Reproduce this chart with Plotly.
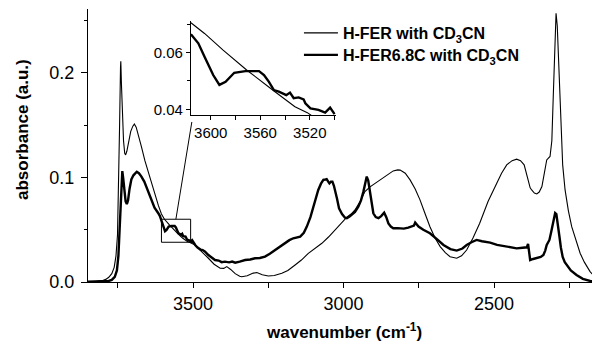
import plotly.graph_objects as go

# ---------------- data ----------------
fer_wn = [3849, 3820, 3800, 3790, 3780, 3770, 3762, 3756, 3751, 3747, 3744, 3741, 3740, 3738, 3735, 3731, 3727, 3724, 3720, 3714, 3707, 3700, 3695, 3689, 3682, 3672, 3660, 3648, 3637, 3625, 3615, 3605, 3595, 3580, 3565, 3550, 3535, 3520, 3505, 3493, 3475, 3460, 3449, 3430, 3410, 3398, 3388, 3375, 3360, 3345, 3338, 3320, 3300, 3288, 3270, 3250, 3230, 3205, 3185, 3161, 3140, 3117, 3095, 3072, 3050, 3028, 3010, 2989, 2975, 2962, 2945, 2929, 2912, 2895, 2878, 2862, 2846, 2835, 2820, 2812, 2795, 2779, 2762, 2746, 2730, 2713, 2696, 2679, 2662, 2646, 2624, 2608, 2591, 2570, 2548, 2520, 2491, 2475, 2458, 2440, 2425, 2412, 2400, 2392, 2386, 2380, 2375, 2366, 2358, 2350, 2341, 2333, 2325, 2314, 2308, 2303, 2298, 2294, 2290, 2286, 2282, 2278, 2272, 2264, 2253, 2242, 2228, 2214, 2200, 2181, 2165, 2148]
fer_abs = [0.0004, 0.0006, 0.0015, 0.0025, 0.0045, 0.008, 0.014, 0.025, 0.045, 0.09, 0.15, 0.205, 0.211, 0.19, 0.16, 0.135, 0.123, 0.1215, 0.125, 0.134, 0.144, 0.149, 0.151, 0.148, 0.141, 0.130, 0.116, 0.104, 0.095, 0.083, 0.073, 0.065, 0.060, 0.055, 0.050, 0.046, 0.042, 0.039, 0.037, 0.0354, 0.030, 0.026, 0.0227, 0.017, 0.0131, 0.013, 0.0147, 0.012, 0.008, 0.0055, 0.0051, 0.006, 0.0085, 0.009, 0.007, 0.0057, 0.0062, 0.0083, 0.011, 0.0163, 0.021, 0.0274, 0.032, 0.037, 0.043, 0.0498, 0.055, 0.0619, 0.065, 0.0689, 0.077, 0.0864, 0.091, 0.0944, 0.098, 0.1008, 0.104, 0.1062, 0.1072, 0.107, 0.104, 0.0976, 0.089, 0.0785, 0.066, 0.0529, 0.042, 0.0338, 0.028, 0.0242, 0.0227, 0.025, 0.0306, 0.042, 0.056, 0.077, 0.0944, 0.104, 0.112, 0.116, 0.1174, 0.116, 0.112, 0.104, 0.096, 0.090, 0.088, 0.085, 0.0842, 0.086, 0.0912, 0.105, 0.1167, 0.12, 0.135, 0.18, 0.235, 0.257, 0.245, 0.215, 0.175, 0.14, 0.112, 0.088, 0.068, 0.0529, 0.039, 0.0275, 0.019, 0.0099, 0.005, 0.002]

fer68_wn = [3849, 3800, 3780, 3770, 3760, 3753, 3748, 3744, 3740, 3737, 3735, 3732, 3728, 3724, 3720, 3716, 3711, 3705, 3698, 3692, 3687, 3680, 3672, 3662, 3652, 3640, 3628, 3616, 3610, 3605, 3598, 3593, 3588, 3581, 3572, 3561, 3557, 3553, 3549, 3545, 3539, 3536, 3533, 3525, 3520, 3513, 3507, 3503, 3499, 3493, 3485, 3475, 3468, 3460, 3450, 3440, 3427, 3415, 3405, 3394, 3380, 3370, 3360, 3345, 3327, 3310, 3294, 3278, 3261, 3245, 3228, 3210, 3194, 3180, 3167, 3155, 3144, 3132, 3122, 3110, 3100, 3090, 3084, 3075, 3067, 3060, 3056, 3051, 3047, 3042, 3037, 3032, 3028, 3022, 3015, 3005, 2995, 2989, 2980, 2973, 2962, 2951, 2942, 2934, 2928, 2923, 2918, 2912, 2906, 2901, 2893, 2884, 2875, 2865, 2858, 2851, 2843, 2835, 2820, 2800, 2785, 2773, 2766, 2762, 2757, 2751, 2735, 2713, 2690, 2668, 2645, 2624, 2605, 2591, 2575, 2558, 2540, 2513, 2490, 2469, 2445, 2425, 2405, 2391, 2387, 2384, 2380, 2370, 2358, 2345, 2336, 2330, 2325, 2316, 2310, 2303, 2297, 2293, 2288, 2283, 2278, 2272, 2265, 2259, 2245, 2226, 2205, 2181, 2148]
fer68_abs = [0.0003, 0.0005, 0.001, 0.002, 0.005, 0.011, 0.025, 0.05, 0.08, 0.103, 0.106, 0.099, 0.086, 0.077, 0.0745, 0.078, 0.089, 0.098, 0.102, 0.104, 0.1054, 0.104, 0.101, 0.096, 0.089, 0.080, 0.071, 0.066, 0.063, 0.0586, 0.0521, 0.0486, 0.0497, 0.0529, 0.0535, 0.0535, 0.0521, 0.0497, 0.0468, 0.0462, 0.045, 0.0459, 0.0439, 0.0435, 0.0405, 0.0398, 0.0388, 0.0400, 0.0375, 0.0354, 0.033, 0.031, 0.0305, 0.029, 0.026, 0.0235, 0.021, 0.0205, 0.019, 0.0195, 0.0188, 0.0195, 0.0185, 0.0195, 0.021, 0.0215, 0.0227, 0.023, 0.0243, 0.027, 0.0306, 0.034, 0.037, 0.040, 0.0418, 0.0425, 0.0434, 0.047, 0.053, 0.062, 0.072, 0.082, 0.088, 0.094, 0.0976, 0.098, 0.0983, 0.096, 0.0944, 0.096, 0.096, 0.092, 0.088, 0.080, 0.0705, 0.065, 0.0615, 0.061, 0.0625, 0.064, 0.067, 0.072, 0.078, 0.0864, 0.095, 0.1008, 0.097, 0.0864, 0.075, 0.0657, 0.062, 0.061, 0.063, 0.0663, 0.062, 0.056, 0.053, 0.0514, 0.0515, 0.051, 0.052, 0.0529, 0.054, 0.0568, 0.055, 0.053, 0.050, 0.0466, 0.041, 0.0354, 0.0315, 0.030, 0.032, 0.0354, 0.038, 0.0402, 0.039, 0.0376, 0.0355, 0.0344, 0.033, 0.0322, 0.0328, 0.0332, 0.0364, 0.028, 0.021, 0.022, 0.0227, 0.024, 0.0258, 0.030, 0.0354, 0.0402, 0.048, 0.0593, 0.066, 0.065, 0.056, 0.044, 0.033, 0.024, 0.019, 0.0163, 0.011, 0.0067, 0.003, 0.001, 0.0003]

inset_fer_wn = [3616, 3605, 3590, 3571, 3550, 3532, 3522, 3516]
inset_fer_abs = [0.0706, 0.0668, 0.0609, 0.0539, 0.0468, 0.0409, 0.0388, 0.0370]

inset_fer68_wn = [3616, 3610, 3605, 3598, 3593, 3588, 3581, 3572, 3561, 3557, 3553, 3549, 3545, 3541, 3539, 3536, 3533, 3529, 3525, 3523.6, 3519.5, 3513, 3507.6, 3503.6, 3500]
inset_fer68_abs = [0.0665, 0.0633, 0.0586, 0.0521, 0.0486, 0.0497, 0.0529, 0.0535, 0.0535, 0.0521, 0.0497, 0.0468, 0.0462, 0.0455, 0.0450, 0.0459, 0.0439, 0.0442, 0.0435, 0.0421, 0.0403, 0.0398, 0.0388, 0.0406, 0.0383]

series_names = ["<b>H-FER with CD<sub>3</sub>CN</b>", "<b>H-FER6.8C with CD<sub>3</sub>CN</b>"]

# ---------------- figure ----------------
# the page body adds an 8px offset, so the figure is drawn 8px smaller
FONT = "Liberation Sans, Arial, Helvetica, sans-serif"
fig = go.Figure()

fig.add_trace(go.Scatter(x=fer_wn, y=fer_abs, mode="lines", name=series_names[0],
                         line=dict(color="black", width=1.1), xaxis="x", yaxis="y",
                         legend="legend"))
fig.add_trace(go.Scatter(x=fer68_wn, y=fer68_abs, mode="lines", name=series_names[1],
                         line=dict(color="black", width=2.4), xaxis="x", yaxis="y",
                         legend="legend2"))

fig.add_trace(go.Scatter(x=inset_fer_wn, y=inset_fer_abs, mode="lines", showlegend=False,
                         line=dict(color="black", width=1.1), xaxis="x2", yaxis="y2"))
fig.add_trace(go.Scatter(x=inset_fer68_wn, y=inset_fer68_abs, mode="lines", showlegend=False,
                         line=dict(color="black", width=2.4), xaxis="x2", yaxis="y2"))

leg_common = dict(xanchor="left", yanchor="middle", bgcolor="rgba(0,0,0,0)",
                  font=dict(size=16, family=FONT), itemwidth=34)

fig.update_layout(
    width=592, height=336,
    margin=dict(l=80, r=0, t=1, b=62, autoexpand=False),
    paper_bgcolor="white", plot_bgcolor="white",
    font=dict(family=FONT, color="black", size=18),
    showlegend=True,
    legend=dict(x=0.412, y=(282 - 33) / 273, **leg_common),
    legend2=dict(x=0.412, y=(282 - 55) / 273, **leg_common),
    xaxis=dict(range=[3849, 2148], showline=True, linecolor="black", linewidth=1.3,
               ticks="outside", ticklen=5, tickwidth=1.2, tickcolor="black",
               tick0=3500, dtick=500, tickfont=dict(size=18),
               minor=dict(tick0=3500, dtick=250, ticklen=5, tickwidth=1.2,
                          tickcolor="black", ticks="outside"),
               showgrid=False, zeroline=False, mirror=False, automargin=False),
    xaxis3=dict(range=[3849, 2148], overlaying="x", side="top", anchor="y",
                showline=True, linecolor="black", linewidth=1.3,
                ticks="inside", ticklen=5, tickwidth=1.2, tickcolor="black",
                tick0=3500, dtick=250, showticklabels=False, showgrid=False,
                zeroline=False, automargin=False),
    yaxis=dict(range=[0, 0.261], showline=True, linecolor="black", linewidth=1.3,
               ticks="outside", ticklen=6, tickwidth=1.2, tickcolor="black",
               tick0=0, dtick=0.1, tickformat=".1f", tickfont=dict(size=18),
               ticklabelstandoff=3,
               minor=dict(dtick=0.05, ticklen=3, tickwidth=1.2, tickcolor="black", ticks="outside"),
               showgrid=False, zeroline=False, automargin=False),
    xaxis2=dict(domain=[0.201, 0.484], anchor="y2", range=[3616, 3499],
                showline=True, linecolor="black", linewidth=1,
                ticks="outside", ticklen=4, tickwidth=1, tickcolor="black",
                tick0=3600, dtick=40, tickfont=dict(size=15),
                minor=dict(tick0=3600, dtick=20, ticklen=4, tickwidth=1,
                           tickcolor="black", ticks="outside"),
                showgrid=False, zeroline=False, automargin=False),
    yaxis2=dict(domain=[0.612, 0.956], anchor="x2", range=[0.038, 0.0712],
                showline=True, linecolor="black", linewidth=1,
                ticks="outside", ticklen=4, tickwidth=1, tickcolor="black",
                tick0=0.04, dtick=0.02, tickformat=".2f", tickfont=dict(size=15),
                minor=dict(dtick=0.01, ticklen=3, tickwidth=1, tickcolor="black", ticks="outside"),
                showgrid=False, zeroline=False, automargin=False),
)

# zoom box and connector line on the main axes
fig.add_shape(type="rect", xref="x", yref="y", x0=3605, x1=3508, y0=0.038, y1=0.060,
              line=dict(color="black", width=1))
fig.add_shape(type="line", xref="x", yref="y", x0=3557, y0=0.060, x1=3504, y1=0.153,
              line=dict(color="black", width=1))

# axis titles
fig.add_annotation(text="<b>absorbance (a.u.)</b>", xref="paper", yref="paper",
                   x=-66 / 512, y=(282 - 130) / 273, xanchor="center", yanchor="middle",
                   textangle=-90, showarrow=False, font=dict(size=17, family=FONT))
fig.add_annotation(text="<b>wavenumber (cm<sup>-1</sup>)</b>", xref="paper", yref="paper",
                   x=0.5, y=(282 - 331) / 273, xanchor="center", yanchor="middle",
                   showarrow=False, font=dict(size=17, family=FONT))

fig.write_html("out.html")
